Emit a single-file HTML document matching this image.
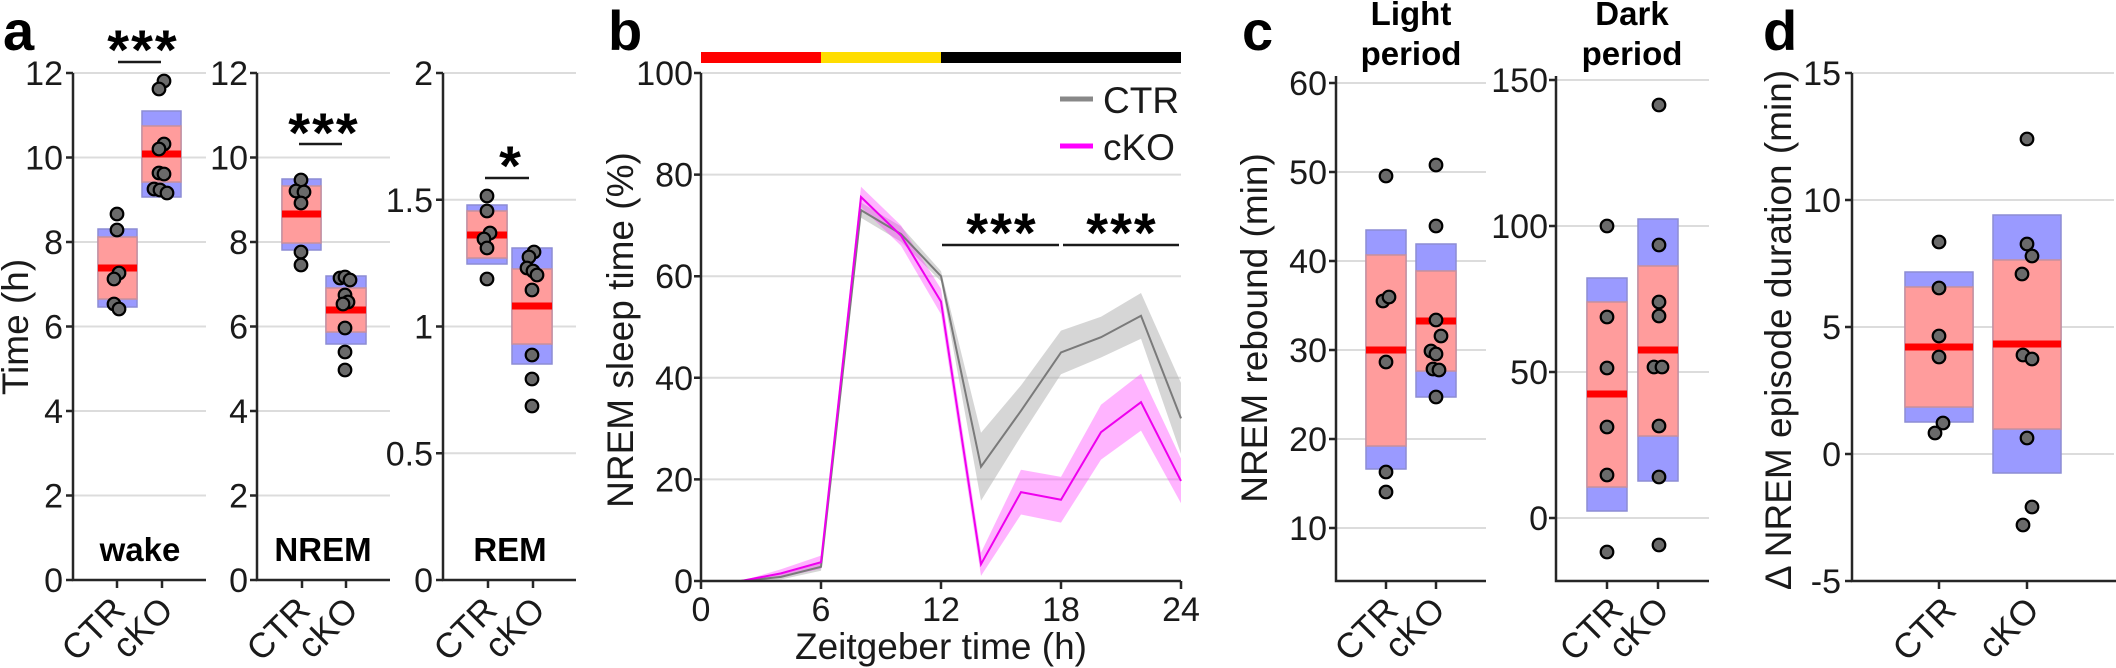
<!DOCTYPE html>
<html><head><meta charset="utf-8"><style>
html,body{margin:0;padding:0;background:#fff;}
svg{display:block;}
text{font-family:"Liberation Sans",Arial,sans-serif;fill:#1a1a1a;}
.tk{font-size:34px;}
.tl{font-size:35px;}
.al{font-size:37px;}
.bl{font-size:33px;font-weight:bold;fill:#000;}
.pl{font-size:56px;font-weight:bold;fill:#000;}
.st{font-size:56px;font-weight:bold;fill:#000;}
.g{stroke:#dcdcdc;stroke-width:2;}
.ax{stroke:#262626;stroke-width:2.5;fill:none;}
.sig{stroke:#1a1a1a;stroke-width:2.5;}
.bb{fill:#9a9aff;stroke:#8c8cd4;stroke-width:1.5;}
.pb{fill:#ff9c9c;stroke:#c8909c;stroke-width:1.5;}
.md{fill:#ff0000;}
.d{fill:#6a6a6a;stroke:#000;stroke-width:2.2;}
</style></head><body>
<svg width="2116" height="668" viewBox="0 0 2116 668" xmlns="http://www.w3.org/2000/svg">
<rect width="2116" height="668" fill="#fff"/>

<!-- ================= PANEL A ================= -->
<text class="pl" x="3" y="50">a</text>
<!-- axis 1 wake -->
<g>
<line class="g" x1="73" y1="73" x2="206" y2="73"/>
<line class="g" x1="73" y1="157.5" x2="206" y2="157.5"/>
<line class="g" x1="73" y1="242" x2="206" y2="242"/>
<line class="g" x1="73" y1="326.5" x2="206" y2="326.5"/>
<line class="g" x1="73" y1="411" x2="206" y2="411"/>
<line class="g" x1="73" y1="495.5" x2="206" y2="495.5"/>
<path class="ax" d="M73 73 V580 H206"/>
<path class="ax" d="M66 73H73M66 157.5H73M66 242H73M66 326.5H73M66 411H73M66 495.5H73M66 580H73M117 580V588M162 580V588"/>
<g class="tk" text-anchor="end">
<text x="63" y="85">12</text><text x="63" y="169.5">10</text><text x="63" y="254">8</text><text x="63" y="338.5">6</text><text x="63" y="423">4</text><text x="63" y="507.5">2</text><text x="63" y="592">0</text>
</g>
<rect class="bb" x="98" y="229" width="39" height="78"/>
<rect class="pb" x="98" y="237" width="39" height="62"/>
<rect class="md" x="98" y="264.5" width="39" height="7"/>
<rect class="bb" x="142" y="111" width="39" height="86"/>
<rect class="pb" x="142" y="126" width="39" height="56"/>
<rect class="md" x="142" y="150.5" width="39" height="7"/>
<circle class="d" cx="117" cy="214" r="6.3"/><circle class="d" cx="117" cy="230" r="6.3"/>
<circle class="d" cx="119" cy="273" r="6.3"/><circle class="d" cx="114" cy="279" r="6.3"/>
<circle class="d" cx="114" cy="304" r="6.3"/><circle class="d" cx="119" cy="309" r="6.3"/>
<circle class="d" cx="164" cy="81" r="6.3"/><circle class="d" cx="159" cy="89" r="6.3"/>
<circle class="d" cx="164" cy="144" r="6.3"/><circle class="d" cx="159" cy="149" r="6.3"/>
<circle class="d" cx="159" cy="173" r="6.3"/><circle class="d" cx="164" cy="174" r="6.3"/>
<circle class="d" cx="154" cy="189" r="6.3"/><circle class="d" cx="160" cy="190" r="6.3"/><circle class="d" cx="167" cy="193" r="6.3"/>
<text class="st" x="143" y="69" text-anchor="middle" letter-spacing="2">***</text>
<line class="sig" x1="118" y1="62" x2="161" y2="62"/>
<text class="bl" x="140" y="561" text-anchor="middle">wake</text>
<text class="tl" text-anchor="end" transform="translate(127,612) rotate(-45)">CTR</text>
<text class="tl" text-anchor="end" transform="translate(175,612) rotate(-45)">cKO</text>
</g>

<!-- axis 2 NREM -->
<g>
<line class="g" x1="257" y1="73" x2="390" y2="73"/>
<line class="g" x1="257" y1="157.5" x2="390" y2="157.5"/>
<line class="g" x1="257" y1="242" x2="390" y2="242"/>
<line class="g" x1="257" y1="326.5" x2="390" y2="326.5"/>
<line class="g" x1="257" y1="411" x2="390" y2="411"/>
<line class="g" x1="257" y1="495.5" x2="390" y2="495.5"/>
<path class="ax" d="M257 73 V580 H390"/>
<path class="ax" d="M250 73H257M250 157.5H257M250 242H257M250 326.5H257M250 411H257M250 495.5H257M250 580H257M302 580V588M346 580V588"/>
<g class="tk" text-anchor="end">
<text x="248" y="85">12</text><text x="248" y="169.5">10</text><text x="248" y="254">8</text><text x="248" y="338.5">6</text><text x="248" y="423">4</text><text x="248" y="507.5">2</text><text x="248" y="592">0</text>
</g>
<rect class="bb" x="282" y="179" width="39" height="71"/>
<rect class="pb" x="282" y="186" width="39" height="57"/>
<rect class="md" x="282" y="210.5" width="39" height="7"/>
<rect class="bb" x="326" y="276" width="40" height="68"/>
<rect class="pb" x="326" y="288" width="40" height="44"/>
<rect class="md" x="326" y="306.5" width="40" height="7"/>
<circle class="d" cx="301" cy="180" r="6.3"/><circle class="d" cx="296" cy="191" r="6.3"/>
<circle class="d" cx="304" cy="192" r="6.3"/><circle class="d" cx="301" cy="203" r="6.3"/>
<circle class="d" cx="301" cy="252" r="6.3"/><circle class="d" cx="301" cy="265" r="6.3"/>
<circle class="d" cx="340" cy="278" r="6.3"/><circle class="d" cx="345" cy="277" r="6.3"/><circle class="d" cx="350" cy="280" r="6.3"/>
<circle class="d" cx="345" cy="295" r="6.3"/><circle class="d" cx="348" cy="302" r="6.3"/><circle class="d" cx="343" cy="304" r="6.3"/>
<circle class="d" cx="345" cy="328" r="6.3"/><circle class="d" cx="345" cy="352" r="6.3"/><circle class="d" cx="345" cy="370" r="6.3"/>
<text class="st" x="324" y="152" text-anchor="middle" letter-spacing="2">***</text>
<line class="sig" x1="299" y1="144" x2="342" y2="144"/>
<text class="bl" x="323" y="561" text-anchor="middle">NREM</text>
<text class="tl" text-anchor="end" transform="translate(312,612) rotate(-45)">CTR</text>
<text class="tl" text-anchor="end" transform="translate(360,612) rotate(-45)">cKO</text>
</g>

<!-- axis 3 REM -->
<g>
<line class="g" x1="443" y1="73" x2="576" y2="73"/>
<line class="g" x1="443" y1="199.75" x2="576" y2="199.75"/>
<line class="g" x1="443" y1="326.5" x2="576" y2="326.5"/>
<line class="g" x1="443" y1="453.25" x2="576" y2="453.25"/>
<path class="ax" d="M443 73 V580 H576"/>
<path class="ax" d="M436 73H443M436 199.75H443M436 326.5H443M436 453.25H443M436 580H443M488 580V588M533 580V588"/>
<g class="tk" text-anchor="end">
<text x="433" y="85">2</text><text x="433" y="211.75">1.5</text><text x="433" y="338.5">1</text><text x="433" y="465.25">0.5</text><text x="433" y="592">0</text>
</g>
<rect class="bb" x="467" y="205" width="40" height="59"/>
<rect class="pb" x="467" y="211" width="40" height="47"/>
<rect class="md" x="467" y="231.5" width="40" height="7"/>
<rect class="bb" x="512" y="248" width="40" height="116"/>
<rect class="pb" x="512" y="269" width="40" height="75"/>
<rect class="md" x="512" y="302.5" width="40" height="7"/>
<circle class="d" cx="487" cy="196" r="6.3"/><circle class="d" cx="487" cy="211" r="6.3"/>
<circle class="d" cx="490" cy="233" r="6.3"/><circle class="d" cx="484" cy="239" r="6.3"/>
<circle class="d" cx="487" cy="248" r="6.3"/><circle class="d" cx="487" cy="279" r="6.3"/>
<circle class="d" cx="534" cy="252" r="6.3"/><circle class="d" cx="529" cy="257" r="6.3"/>
<circle class="d" cx="527" cy="268" r="6.3"/><circle class="d" cx="533" cy="271" r="6.3"/><circle class="d" cx="537" cy="275" r="6.3"/>
<circle class="d" cx="532" cy="290" r="6.3"/><circle class="d" cx="532" cy="355" r="6.3"/>
<circle class="d" cx="532" cy="379" r="6.3"/><circle class="d" cx="532" cy="406" r="6.3"/>
<text class="st" x="510" y="185" text-anchor="middle">*</text>
<line class="sig" x1="485" y1="178" x2="529" y2="178"/>
<text class="bl" x="510" y="561" text-anchor="middle">REM</text>
<text class="tl" text-anchor="end" transform="translate(499,612) rotate(-45)">CTR</text>
<text class="tl" text-anchor="end" transform="translate(547,612) rotate(-45)">cKO</text>
</g>
<text class="al" text-anchor="middle" transform="translate(28,327) rotate(-90)">Time (h)</text>

<!-- ================= PANEL B ================= -->
<text class="pl" x="608" y="50">b</text>
<rect x="701" y="52" width="120" height="11" fill="#ff0000"/>
<rect x="821" y="52" width="120" height="11" fill="#ffdd00"/>
<rect x="941" y="52" width="240" height="11" fill="#000"/>
<line class="g" x1="701" y1="73" x2="1181" y2="73"/>
<line class="g" x1="701" y1="174.6" x2="1181" y2="174.6"/>
<line class="g" x1="701" y1="276.2" x2="1181" y2="276.2"/>
<line class="g" x1="701" y1="377.8" x2="1181" y2="377.8"/>
<line class="g" x1="701" y1="479.4" x2="1181" y2="479.4"/>
<g class="tk" text-anchor="end">
<text x="693" y="85">100</text><text x="693" y="186.6">80</text><text x="693" y="288.2">60</text><text x="693" y="389.8">40</text><text x="693" y="491.4">20</text><text x="693" y="593">0</text>
</g>
<!-- bands -->
<polygon fill="#b4b4b4" fill-opacity="0.55" points="741,581 781,574.4 821,562.7 861,202.5 901,226.4 941,271.1 981,432.7 1021,385.4 1061,330.6 1101,316.8 1141,293 1181,382.9 1181,454 1141,338.7 1101,357.5 1061,374.2 1021,436.2 981,500.7 941,281.3 901,241.7 861,217.8 821,570.8 781,579.5 741,581"/>
<polygon fill="#ff44ff" fill-opacity="0.4" points="741,581 781,569.3 821,555.6 861,186.8 901,225.4 941,288.9 981,552.6 1021,469.7 1061,476.9 1101,404.7 1141,373.7 1181,458.6 1181,503.3 1141,430.6 1101,459.6 1061,522.6 1021,514.5 981,575.9 941,314.3 901,245.7 861,207.1 821,568.8 781,577.4 741,581"/>
<polyline fill="none" stroke="#7a7a7a" stroke-width="2" points="741,581 781,576.9 821,566.8 861,210.2 901,234 941,276.2 981,466.7 1021,410.8 1061,352.4 1101,337.2 1141,315.8 1181,418.4"/>
<polyline fill="none" stroke="#ee00ee" stroke-width="2" points="741,581 781,573.4 821,562.2 861,197 901,235.6 941,301.6 981,564.2 1021,492.1 1061,499.7 1101,432.2 1141,402.2 1181,480.9"/>
<path class="ax" d="M701 73 V581 H1181"/>
<path class="ax" d="M694 73H701M694 174.6H701M694 276.2H701M694 377.8H701M694 479.4H701M694 581H701M701 581V589M821 581V589M941 581V589M1061 581V589M1181 581V589"/>
<g class="tk" text-anchor="middle">
<text x="701" y="621">0</text><text x="821" y="621">6</text><text x="941" y="621">12</text><text x="1061" y="621">18</text><text x="1181" y="621">24</text>
</g>
<text class="al" x="941" y="659" text-anchor="middle">Zeitgeber time (h)</text>
<text class="al" text-anchor="middle" transform="translate(633,330) rotate(-90)">NREM sleep time (%)</text>
<!-- legend -->
<line x1="1060" y1="99" x2="1093" y2="99" stroke="#888" stroke-width="5"/>
<text x="1103" y="113" style="font-size:37px" fill="#000">CTR</text>
<line x1="1060" y1="146" x2="1093" y2="146" stroke="#ff00ff" stroke-width="5"/>
<text x="1103" y="160" style="font-size:37px">cKO</text>
<!-- significance -->
<text class="st" x="1002" y="252" text-anchor="middle" letter-spacing="2">***</text>
<line class="sig" x1="942" y1="245" x2="1059" y2="245"/>
<text class="st" x="1122" y="252" text-anchor="middle" letter-spacing="2">***</text>
<line class="sig" x1="1063" y1="245" x2="1179" y2="245"/>

<!-- ================= PANEL C ================= -->
<text class="pl" x="1242" y="50">c</text>
<text class="bl" x="1411" y="25" text-anchor="middle">Light</text>
<text class="bl" x="1411" y="65" text-anchor="middle">period</text>
<text class="bl" x="1632" y="25" text-anchor="middle">Dark</text>
<text class="bl" x="1632" y="65" text-anchor="middle">period</text>
<text class="al" text-anchor="middle" transform="translate(1267,328) rotate(-90)">NREM rebound (min)</text>
<!-- light -->
<g>
<line class="g" x1="1336" y1="83" x2="1486" y2="83"/>
<line class="g" x1="1336" y1="172" x2="1486" y2="172"/>
<line class="g" x1="1336" y1="261" x2="1486" y2="261"/>
<line class="g" x1="1336" y1="350" x2="1486" y2="350"/>
<line class="g" x1="1336" y1="439" x2="1486" y2="439"/>
<line class="g" x1="1336" y1="528" x2="1486" y2="528"/>
<g class="tk" text-anchor="end">
<text x="1327" y="95">60</text><text x="1327" y="184">50</text><text x="1327" y="273">40</text><text x="1327" y="362">30</text><text x="1327" y="451">20</text><text x="1327" y="540">10</text>
</g>
<rect class="bb" x="1366" y="230" width="40" height="239"/>
<rect class="pb" x="1366" y="255" width="40" height="191"/>
<rect class="md" x="1366" y="346.5" width="40" height="7"/>
<rect class="bb" x="1416" y="244" width="40" height="153"/>
<rect class="pb" x="1416" y="271" width="40" height="100"/>
<rect class="md" x="1416" y="317.5" width="40" height="7"/>
<circle class="d" cx="1386" cy="176" r="6.3"/><circle class="d" cx="1383" cy="301" r="6.3"/><circle class="d" cx="1389" cy="297" r="6.3"/>
<circle class="d" cx="1386" cy="362" r="6.3"/><circle class="d" cx="1386" cy="472" r="6.3"/><circle class="d" cx="1386" cy="492" r="6.3"/>
<circle class="d" cx="1436" cy="165" r="6.3"/><circle class="d" cx="1436" cy="226" r="6.3"/><circle class="d" cx="1436" cy="320" r="6.3"/>
<circle class="d" cx="1441" cy="336" r="6.3"/><circle class="d" cx="1431" cy="351" r="6.3"/><circle class="d" cx="1436" cy="354" r="6.3"/>
<circle class="d" cx="1433" cy="369" r="6.3"/><circle class="d" cx="1439" cy="370" r="6.3"/><circle class="d" cx="1436" cy="397" r="6.3"/>
<path class="ax" d="M1336 76 V581 H1486"/>
<path class="ax" d="M1329 83H1336M1329 172H1336M1329 261H1336M1329 350H1336M1329 439H1336M1329 528H1336M1386 581V589M1436 581V589"/>
<text class="tl" text-anchor="end" transform="translate(1400,612) rotate(-45)">CTR</text>
<text class="tl" text-anchor="end" transform="translate(1447,612) rotate(-45)">cKO</text>
</g>
<!-- dark -->
<g>
<line class="g" x1="1556" y1="80" x2="1709" y2="80"/>
<line class="g" x1="1556" y1="226" x2="1709" y2="226"/>
<line class="g" x1="1556" y1="372" x2="1709" y2="372"/>
<line class="g" x1="1556" y1="518" x2="1709" y2="518"/>
<g class="tk" text-anchor="end">
<text x="1548" y="92">150</text><text x="1548" y="238">100</text><text x="1548" y="384">50</text><text x="1548" y="530">0</text>
</g>
<rect class="bb" x="1587" y="278" width="40" height="233"/>
<rect class="pb" x="1587" y="302" width="40" height="185"/>
<rect class="md" x="1587" y="390.5" width="40" height="7"/>
<rect class="bb" x="1638" y="219" width="40" height="262"/>
<rect class="pb" x="1638" y="266" width="40" height="170"/>
<rect class="md" x="1638" y="346.5" width="40" height="7"/>
<circle class="d" cx="1607" cy="226" r="6.3"/><circle class="d" cx="1607" cy="317" r="6.3"/><circle class="d" cx="1607" cy="368" r="6.3"/>
<circle class="d" cx="1607" cy="427" r="6.3"/><circle class="d" cx="1607" cy="475" r="6.3"/><circle class="d" cx="1607" cy="552" r="6.3"/>
<circle class="d" cx="1659" cy="105" r="6.3"/><circle class="d" cx="1659" cy="245" r="6.3"/><circle class="d" cx="1659" cy="302" r="6.3"/>
<circle class="d" cx="1659" cy="316" r="6.3"/><circle class="d" cx="1654" cy="367" r="6.3"/><circle class="d" cx="1662" cy="367" r="6.3"/>
<circle class="d" cx="1659" cy="426" r="6.3"/><circle class="d" cx="1659" cy="477" r="6.3"/><circle class="d" cx="1659" cy="545" r="6.3"/>
<path class="ax" d="M1556 76 V581 H1709"/>
<path class="ax" d="M1549 80H1556M1549 226H1556M1549 372H1556M1549 518H1556M1607 581V589M1658 581V589"/>
<text class="tl" text-anchor="end" transform="translate(1625,612) rotate(-45)">CTR</text>
<text class="tl" text-anchor="end" transform="translate(1671,612) rotate(-45)">cKO</text>
</g>

<!-- ================= PANEL D ================= -->
<text class="pl" x="1763" y="50">d</text>
<line class="g" x1="1852" y1="73" x2="2114" y2="73"/>
<line class="g" x1="1852" y1="200" x2="2114" y2="200"/>
<line class="g" x1="1852" y1="327" x2="2114" y2="327"/>
<line class="g" x1="1852" y1="454" x2="2114" y2="454"/>
<g class="tk" text-anchor="end">
<text x="1841" y="85">15</text><text x="1841" y="212">10</text><text x="1841" y="339">5</text><text x="1841" y="466">0</text><text x="1841" y="593">-5</text>
</g>
<rect class="bb" x="1905" y="272" width="68" height="150"/>
<rect class="pb" x="1905" y="287" width="68" height="120"/>
<rect class="md" x="1905" y="343.5" width="68" height="7"/>
<rect class="bb" x="1993" y="215" width="68" height="258"/>
<rect class="pb" x="1993" y="260" width="68" height="169"/>
<rect class="md" x="1993" y="340.5" width="68" height="7"/>
<circle class="d" cx="1939" cy="242" r="6.3"/><circle class="d" cx="1939" cy="288" r="6.3"/><circle class="d" cx="1939" cy="336" r="6.3"/>
<circle class="d" cx="1939" cy="357" r="6.3"/><circle class="d" cx="1943" cy="423" r="6.3"/><circle class="d" cx="1935" cy="433" r="6.3"/>
<circle class="d" cx="2027" cy="139" r="6.3"/><circle class="d" cx="2027" cy="244" r="6.3"/><circle class="d" cx="2032" cy="256" r="6.3"/>
<circle class="d" cx="2022" cy="274" r="6.3"/><circle class="d" cx="2023" cy="355" r="6.3"/><circle class="d" cx="2032" cy="359" r="6.3"/>
<circle class="d" cx="2027" cy="438" r="6.3"/><circle class="d" cx="2032" cy="507" r="6.3"/><circle class="d" cx="2023" cy="525" r="6.3"/>
<path class="ax" d="M1852 73 V581 H2116"/>
<path class="ax" d="M1845 73H1852M1845 200H1852M1845 327H1852M1845 454H1852M1845 581H1852M1939 581V589M2027 581V589"/>
<text class="tl" text-anchor="end" transform="translate(1958,612) rotate(-45)">CTR</text>
<text class="tl" text-anchor="end" transform="translate(2041,612) rotate(-45)">cKO</text>
<text class="al" text-anchor="middle" transform="translate(1791,330) rotate(-90)">Δ NREM episode duration (min)</text>
</svg>
</body></html>
